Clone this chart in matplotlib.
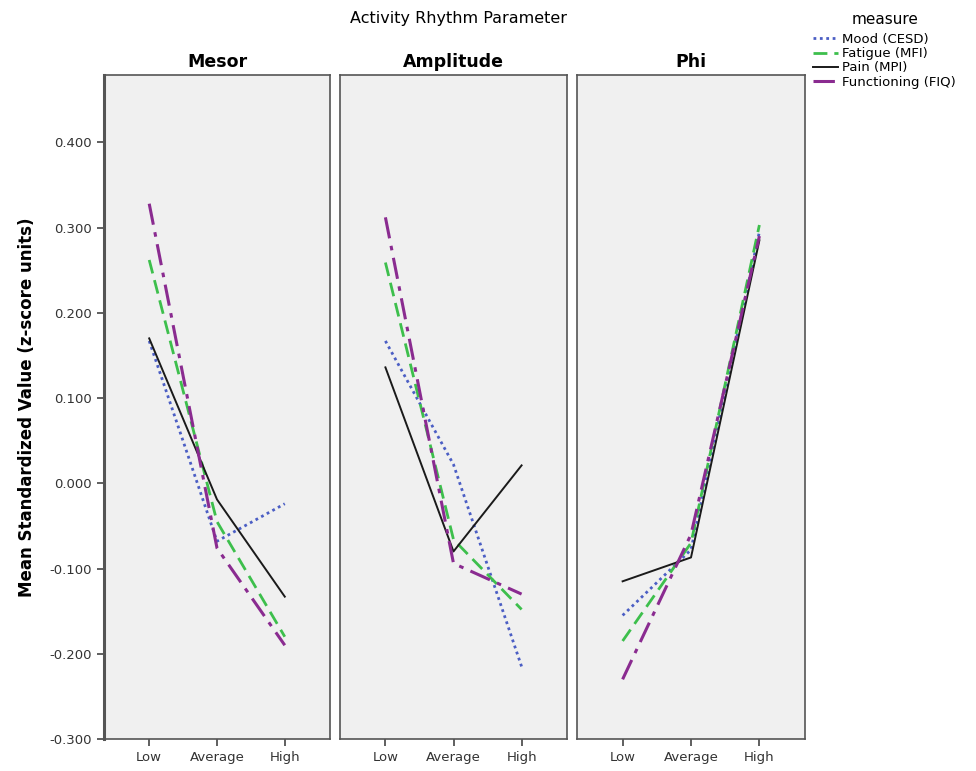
import matplotlib
matplotlib.use('Agg')
import matplotlib.pyplot as plt

# data
levels = ['Low', 'Average', 'High']
panels = ['Mesor', 'Amplitude', 'Phi']
measures = ['Mood (CESD)', 'Fatigue (MFI)', 'Pain (MPI)', 'Functioning (FIQ)']

mesor_mood = [0.167, -0.068, -0.024]
mesor_fatigue = [0.262, -0.045, -0.180]
mesor_pain = [0.170, -0.019, -0.133]
mesor_func = [0.328, -0.076, -0.190]

amp_mood = [0.167, 0.022, -0.215]
amp_fatigue = [0.259, -0.066, -0.148]
amp_pain = [0.136, -0.080, 0.021]
amp_func = [0.312, -0.094, -0.130]

phi_mood = [-0.155, -0.078, 0.295]
phi_fatigue = [-0.185, -0.070, 0.303]
phi_pain = [-0.115, -0.087, 0.285]
phi_func = [-0.230, -0.060, 0.290]

yticks = [0.4, 0.3, 0.2, 0.1, 0.0, -0.1, -0.2, -0.3]

panel_data = {
    'Mesor': [mesor_mood, mesor_fatigue, mesor_pain, mesor_func],
    'Amplitude': [amp_mood, amp_fatigue, amp_pain, amp_func],
    'Phi': [phi_mood, phi_fatigue, phi_pain, phi_func],
}

colors = ['#4b5ec4', '#3dbf4c', '#1a1a1a', '#8a2b90']
styles = [(0, (1, 1.3)), (0, (5, 2.5)), '-', (0, (7, 2.5, 1.5, 2.5))]
widths = [2.0, 2.0, 1.4, 2.2]

fig = plt.figure(figsize=(9.76, 7.71), dpi=100)
lefts = [104, 340, 577]
wpx = [226, 227, 228]
bottom = 1 - 739 / 771
height = (739 - 75) / 771

handles = []
for i, name in enumerate(panels):
    ax = fig.add_axes([lefts[i] / 976, bottom, wpx[i] / 976, height])
    ax.set_facecolor('#f0f0f0')
    x = range(len(levels))
    for j, vals in enumerate(panel_data[name]):
        h, = ax.plot(x, vals, color=colors[j], linestyle=styles[j], lw=widths[j],
                     label=measures[j])
        if i == 0:
            handles.append(h)
    ax.set_xlim(-0.667, 2.667)
    ax.set_ylim(-0.3, 0.479)
    ax.set_xticks(list(x))
    ax.set_xticklabels(levels, fontsize=9.5, color='#333333')
    ax.tick_params(axis='x', direction='out', length=5, width=1.2, color='#444444')
    ax.set_title(name, fontsize=12.5, fontweight='bold', pad=6)
    for s in ax.spines.values():
        s.set_color('#555555')
        s.set_linewidth(1.2)
    if i == 0:
        ax.set_yticks(yticks)
        ax.set_yticklabels(['%.3f' % v for v in yticks], fontsize=9.5, color='#333333')
        ax.tick_params(axis='y', direction='out', length=5, width=1.2, color='#444444')
        ax.spines['left'].set_linewidth(2.2)
        ax.set_ylabel('Mean Standardized Value (z-score units)', fontsize=12,
                      fontweight='bold', labelpad=10)
    else:
        ax.set_yticks([])

fig.text(458 / 976, 1 - 18 / 771, 'Activity Rhythm Parameter', ha='center',
         va='center', fontsize=11.5)

leg = fig.legend(handles=handles, title='measure', loc='upper left',
                 bbox_to_anchor=(808 / 976, 1 - 7 / 771), frameon=False,
                 fontsize=9.5, title_fontsize=11, handlelength=1.9,
                 handletextpad=0.3, labelspacing=0.1, borderaxespad=0)
leg._legend_box.sep = 4

fig.savefig('out.png', dpi=100)
